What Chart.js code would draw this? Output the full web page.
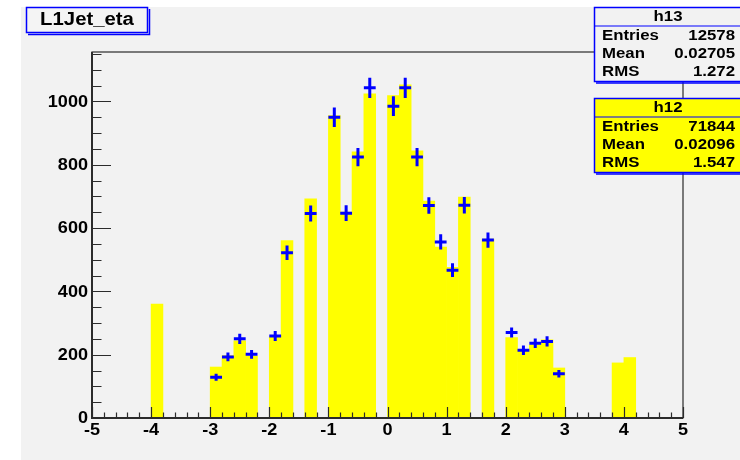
<!DOCTYPE html>
<html>
<head>
<meta charset="utf-8">
<title>L1Jet_eta</title>
<script src="https://cdn.jsdelivr.net/npm/chart.js@4.4.1/dist/chart.umd.min.js"></script>
<style>
  html, body { margin: 0; padding: 0; background: #ffffff; overflow: hidden; }
  #wrap { width: 740px; height: 460px; }
  canvas { display: block; }
</style>
</head>
<body>
<div id="wrap"><canvas id="c" width="740" height="460"></canvas></div>
<script>
// h12: filled histogram, bin centres (width 0.2) and contents of the non-empty bins
const h12Eta = [-3.9, -2.9, -2.7, -2.5, -2.3, -1.9, -1.7, -1.3, -0.9, -0.7, -0.5, -0.3,
                 0.1, 0.3, 0.5, 0.7, 0.9, 1.1, 1.3, 1.7, 2.1, 2.3, 2.5, 2.7, 2.9, 3.9, 4.1];
const h12Counts = [360, 161, 197, 244, 196, 256, 560, 692, 955, 650, 841, 1024,
                   1018, 1052, 844, 685, 540, 476, 698, 565, 254, 216, 231, 247, 158, 174, 191];

// h13: points with error bars
const h13Eta = [-2.9, -2.7, -2.5, -2.3, -1.9, -1.7, -1.3, -0.9, -0.7, -0.5, -0.3,
                 0.1, 0.3, 0.5, 0.7, 0.9, 1.1, 1.3, 1.7, 2.1, 2.3, 2.5, 2.7, 2.9];
const h13Counts = [129, 193, 250, 201, 259, 522, 646, 950, 647, 824, 1043,
                   985, 1043, 824, 671, 556, 467, 672, 562, 270, 214, 236, 242, 140];
const h13Errors = [11, 14, 16, 14, 16, 23, 25, 31, 25, 29, 32,
                   31, 32, 29, 26, 24, 22, 26, 24, 16, 15, 15, 16, 12];

const binWidth = 0.2;
const xTickLabels = ['-5', '-4', '-3', '-2', '-1', '0', '1', '2', '3', '4', '5'];
const yTickLabels = ['0', '200', '400', '600', '800', '1000'];

const titleText = 'L1Jet_eta';
const statsH13 = { name: 'h13', rows: [['Entries', '12578'], ['Mean', '0.02705'], ['RMS', '1.272']] };
const statsH12 = { name: 'h12', rows: [['Entries', '71844'], ['Mean', '0.02096'], ['RMS', '1.547']] };

const FONT = '"Liberation Sans", Arial, Helvetica, sans-serif';
const BLUE = '#0000ff';
const AXIS = '#2b2b2b';

// bold Helvetica-like text, slightly widened
function wideText(ctx, text, x, y, align, size, sx) {
  ctx.save();
  ctx.font = 'bold ' + size + 'px ' + FONT;
  ctx.textBaseline = 'middle';
  ctx.textAlign = align;
  ctx.fillStyle = '#000000';
  ctx.translate(x, y);
  ctx.scale(sx, 1);
  ctx.fillText(text, 0, 0);
  ctx.restore();
}

function statsBox(ctx, box, x, y, w, h, headerH, fill) {
  ctx.save();
  ctx.fillStyle = fill;
  ctx.fillRect(x, y, w, h);
  ctx.strokeStyle = BLUE;
  ctx.lineWidth = 1.5;
  ctx.strokeRect(x + 0.5, y + 0.5, w, h);
  // shadow along the bottom
  ctx.beginPath();
  ctx.moveTo(x + 2, y + h + 2);
  ctx.lineTo(x + w, y + h + 2);
  ctx.stroke();
  // header separator
  ctx.lineWidth = 1.2;
  ctx.beginPath();
  ctx.moveTo(x, y + headerH);
  ctx.lineTo(x + w, y + headerH);
  ctx.stroke();
  ctx.restore();
  wideText(ctx, box.name, x + 74, y + headerH / 2 + 1, 'center', 14, 1.2);
  const rowH = (h - headerH) / box.rows.length;
  box.rows.forEach((r, i) => {
    const cy = y + headerH + rowH * (i + 0.5) + 0.5;
    wideText(ctx, r[0], x + 8, cy, 'left', 14, 1.2);
    wideText(ctx, r[1], x + 141, cy, 'right', 14, 1.2);
  });
}

const rootStyle = {
  id: 'rootStyle',
  beforeDraw(chart) {
    const ctx = chart.ctx;
    ctx.save();
    ctx.fillStyle = '#ffffff';
    ctx.fillRect(0, 0, chart.width, chart.height);
    ctx.fillStyle = '#f2f2f2';
    ctx.fillRect(21, 7, chart.width - 21, chart.height - 7);
    ctx.restore();
  },
  afterDatasetsDraw(chart) {
    const ctx = chart.ctx;
    const xs = chart.scales.x, ys = chart.scales.y;
    const a = chart.chartArea;

    // h13 error crosses
    const meta = chart.getDatasetMeta(1);
    ctx.save();
    ctx.strokeStyle = BLUE;
    ctx.lineWidth = 3;
    meta.data.forEach((pt, i) => {
      const cx = pt.x, cy = pt.y;
      const xl = xs.getPixelForValue(h13Eta[i] - binWidth / 2);
      const xr = xs.getPixelForValue(h13Eta[i] + binWidth / 2);
      const yt = ys.getPixelForValue(h13Counts[i] + h13Errors[i]);
      const yb = ys.getPixelForValue(h13Counts[i] - h13Errors[i]);
      ctx.beginPath();
      ctx.moveTo(xl, cy); ctx.lineTo(xr, cy);
      ctx.moveTo(cx, yt); ctx.lineTo(cx, yb);
      ctx.stroke();
    });
    ctx.restore();

    // frame
    ctx.save();
    ctx.strokeStyle = AXIS;
    ctx.lineWidth = 1.2;
    ctx.strokeRect(a.left, a.top, a.right - a.left, a.bottom - a.top);
    ctx.lineWidth = 2;
    ctx.beginPath();
    ctx.moveTo(a.left, a.top); ctx.lineTo(a.left, a.bottom); ctx.lineTo(a.right, a.bottom);
    ctx.stroke();

    // inward ticks on the y axis: majors every 200, minors every 50
    ctx.lineWidth = 1.2;
    ctx.beginPath();
    for (let v = 0; v <= ys.max; v += 50) {
      const py = Math.round(ys.getPixelForValue(v)) + 0.5;
      const len = v % 200 === 0 ? 19 : 9.5;
      ctx.moveTo(a.left, py); ctx.lineTo(a.left + len, py);
    }
    // inward ticks on the x axis: majors every 1, minors every 0.2
    for (let k = 0; k <= 50; k++) {
      const v = -5 + k * 0.2;
      const px = Math.round(xs.getPixelForValue(v)) + 0.5;
      const len = k % 5 === 0 ? 11 : 5.5;
      ctx.moveTo(px, a.bottom); ctx.lineTo(px, a.bottom - len);
    }
    ctx.stroke();
    ctx.restore();

    // tick labels
    yTickLabels.forEach(t => {
      wideText(ctx, t, a.left - 4, ys.getPixelForValue(Number(t)) + 1, 'right', 16, 1.13);
    });
    xTickLabels.forEach(t => {
      wideText(ctx, t, xs.getPixelForValue(Number(t)), a.bottom + 13, 'center', 16, 1.13);
    });

    // statistics boxes
    statsBox(ctx, statsH13, 594, 7, 150, 74, 19, '#f2f2f2');
    statsBox(ctx, statsH12, 594, 98, 150, 74, 19, '#ffff00');

    // title box
    ctx.save();
    ctx.fillStyle = '#f4f4f4';
    ctx.fillRect(26, 7, 121, 25);
    ctx.strokeStyle = BLUE;
    ctx.lineWidth = 1.5;
    ctx.strokeRect(26.5, 7.5, 121, 25);
    ctx.beginPath();
    ctx.moveTo(149.5, 9); ctx.lineTo(149.5, 34.5); ctx.lineTo(28, 34.5);
    ctx.stroke();
    ctx.restore();
    wideText(ctx, titleText, 87, 20.5, 'center', 18, 1.13);
  }
};

new Chart(document.getElementById('c'), {
  type: 'bar',
  data: {
    datasets: [
      {
        type: 'bar',
        label: 'h12',
        data: h12Eta.map((x, i) => ({ x: x, y: h12Counts[i] })),
        backgroundColor: '#ffff00',
        borderWidth: 0,
        barPercentage: 1.0,
        categoryPercentage: 1.0,
        order: 2
      },
      {
        type: 'scatter',
        label: 'h13',
        data: h13Eta.map((x, i) => ({ x: x, y: h13Counts[i] })),
        pointRadius: 0,
        pointHoverRadius: 0,
        showLine: false,
        order: 1
      }
    ]
  },
  options: {
    responsive: false,
    animation: false,
    devicePixelRatio: 1,
    events: [],
    layout: { padding: { left: 0, right: 57, top: 52, bottom: 0 } },
    plugins: { legend: { display: false }, tooltip: { enabled: false }, title: { display: false } },
    scales: {
      x: {
        type: 'linear',
        min: -5, max: 5,
        offset: false,
        grid: { display: false, offset: false },
        border: { display: false },
        ticks: { display: false },
        afterFit(scale) { scale.height = 42; }
      },
      y: {
        type: 'linear',
        min: 0, max: 1156,
        grid: { display: false },
        border: { display: false },
        ticks: { display: false },
        afterFit(scale) { scale.width = 92; }
      }
    }
  },
  plugins: [rootStyle]
});
</script>
</body>
</html>
